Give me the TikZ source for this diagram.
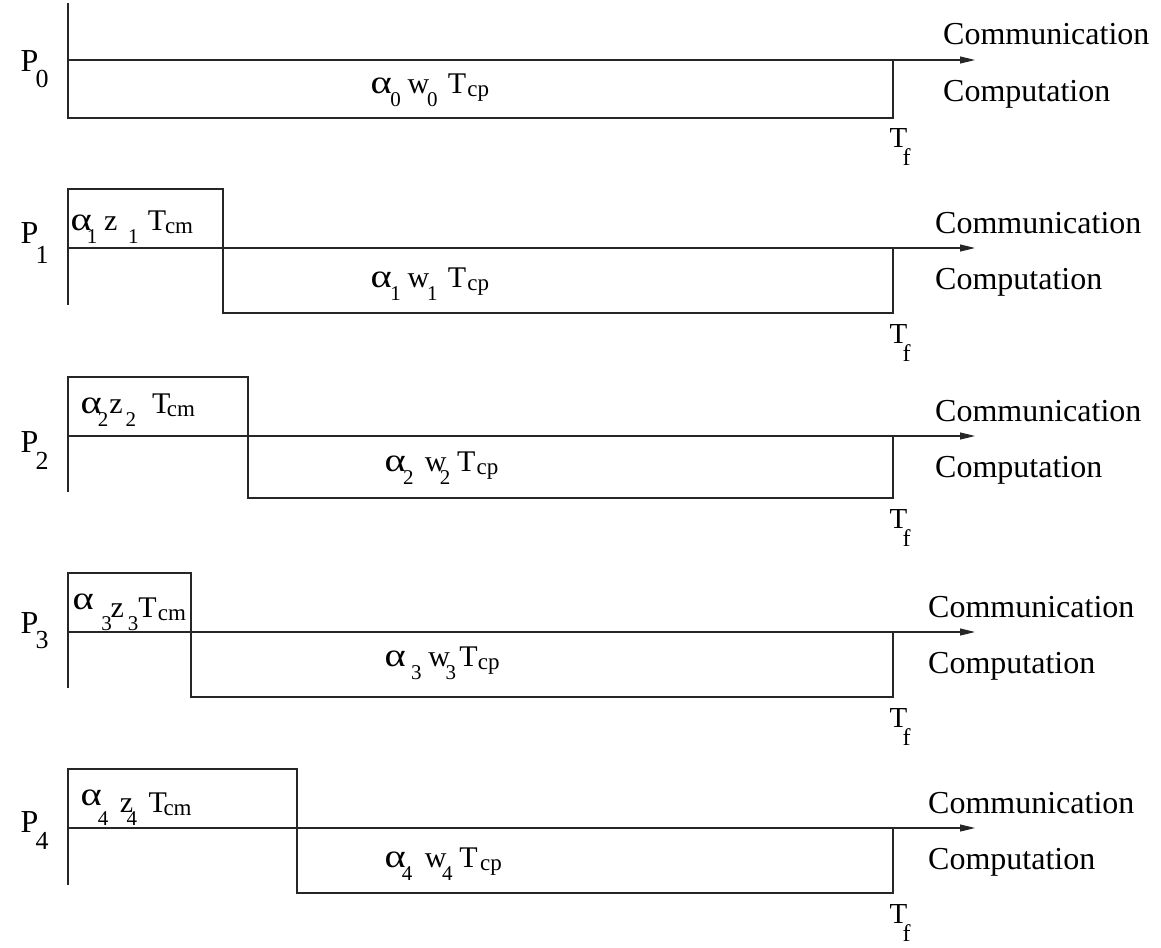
\documentclass[tikz,border=0pt]{standalone}
\usepackage{fontspec}
\setmainfont{Liberation Serif}
\usetikzlibrary{arrows.meta}

% font sizes (1pt = 1 unit of the picture)
\newcommand\fbig{\fontsize{32}{32}\selectfont}
\newcommand\fmain{\fontsize{30}{30}\selectfont}
\newcommand\fsub{\fontsize{21}{21}\selectfont}
\newcommand\fidx{\fontsize{23}{23}\selectfont}
% a broad alpha, as in the Symbol face
\newcommand\alp{\scalebox{1.35}[1.1]{α}}
% place a piece at a horizontal offset and vertical shift from the node's start
\newcommand\pc[3]{\makebox[0pt][l]{\hspace*{#1pt}\raisebox{#2pt}{#3}}}
% same, horizontal offsets stretched for the formula size
\newcommand\pcs[3]{\makebox[0pt][l]{\hspace*{1.15\dimexpr #1pt\relax}\raisebox{#2pt}{#3}}}
% alpha_i x_i T_tail with hand-placed pieces
% #1 second symbol, #2 index, #3 sub1 x, #4 symbol x, #5 sub2 x, #6 T x, #7 tail, #8 tail x, #9 alpha raise
\newcommand\fml[9]{\fmain\pcs{0}{#9}{\alp}\pcs{#3}{-13}{\fsub #2}\pcs{#4}{0}{#1}%
  \pcs{#5}{-13}{\fsub #2}\pcs{#6}{0}{T}\pcs{#8}{-3}{\fidx #7}}
% processor label P_i
\newcommand\proc[2]{\fbig\pc{0}{0}{P}\pc{15}{-#2}{\fontsize{26}{26}\selectfont #1}}
% finishing time T_f
\newcommand\tfin{\fontsize{29}{29}\selectfont\pc{0}{0}{T}\pc{13}{-18}{\fontsize{24}{24}\selectfont f}}

\tikzset{
  tl/.style={line width=1.1pt, draw=black!85},
  timeline/.style={tl, -{Triangle[length=15pt,width=7pt]}},
  lbl/.style={inner sep=0pt, anchor=base west},
  word/.style={lbl, font=\fbig},
}

\begin{document}
\begin{tikzpicture}[x=1pt,y=-1pt]
\useasboundingbox (0,0) rectangle (1161,947);

% ---------- P0: computation only ----------
\coordinate (a0) at (68,60);
\coordinate (e0) at (975,60);
\draw[tl] (68,3) -- (68,118) -- (893,118) -- (893,60);
\draw[timeline] (a0) -- (e0);
\node[lbl] (p0) at (20,72) {\proc{0}{16}};
\node[lbl] (f0) at (370,94) {\fml{w}{0}{17}{32}{49}{67}{cp}{84}{0}};
\node[word] (cm0) at (943,45) {Communication};
\node[word] (cp0) at (943,102) {Computation};
\node[lbl] (t0) at (889,147) {\tfin};

% ---------- P1..P4: communication then computation ----------
% row / line y / box top / box right / axis bottom / comp bottom / word x
\foreach \r/\yl/\tp/\cx/\ab/\cb/\wx in {
  1/248/189/223/305/313/935,
  2/436/377/248/492/498/935,
  3/632/573/191/688/697/928,
  4/828/769/297/885/893/928}{
  \coordinate (a\r) at (68,\yl);
  \coordinate (e\r) at (975,\yl);
  \draw[tl] (68,\ab) -- (68,\tp) -- (\cx,\tp) -- (\cx,\cb) -- (893,\cb) -- (893,\yl);
  \draw[timeline] (a\r) -- (e\r);
  \node[word] (cm\r) at (\wx,\yl-15) {Communication};
  \node[word] (cp\r) at (\wx,\yl+41) {Computation};
  \node[lbl] (t\r) at (889,\cb+30) {\tfin};
}

\node[lbl] (p1) at (20,243) {\proc{1}{20}};
\node[lbl] (p2) at (20,452) {\proc{2}{17}};
\node[lbl] (p3) at (20,633) {\proc{3}{15}};
\node[lbl] (p4) at (20,832) {\proc{4}{17}};

% communication labels
\node[lbl] (z1) at (70,230)  {\fml{z}{1}{14}{29}{50}{67}{cm}{82}{0}};
\node[lbl] (z2) at (80,413)  {\fml{z}{2}{15}{25}{39}{62}{cm}{75}{0}};
\node[lbl] (z3) at (72,617)  {\fml{z}{3}{25}{33}{48}{57}{cm}{74}{8}};
\node[lbl] (z4) at (80,812)  {\fml{z}{4}{15}{34}{40}{59}{cm}{72}{7}};

% computation labels
\node[lbl] (w1) at (370,287) {\fml{w}{1}{17}{32}{49}{67}{cp}{84}{0}};
\node[lbl] (w2) at (384,471) {\fml{w}{2}{16}{35}{48}{63}{cp}{80}{0}};
\node[lbl] (w3) at (384,666) {\fml{w}{3}{23}{38}{53}{65}{cp}{81}{0}};
\node[lbl] (w4) at (384,867) {\fml{w}{4}{15}{35}{50}{65}{cp}{83}{0}};
\end{tikzpicture}
\end{document}
